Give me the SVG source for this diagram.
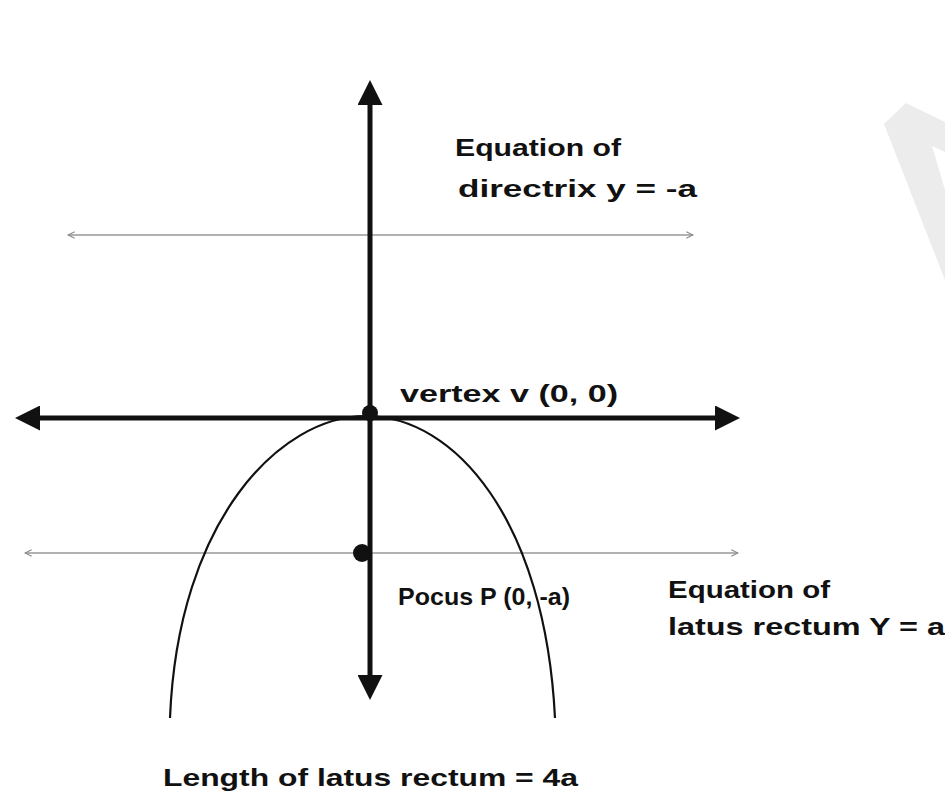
<svg xmlns="http://www.w3.org/2000/svg" width="945" height="800" viewBox="0 0 945 800">
<defs>
<style>
.t{font-family:"Liberation Sans",Arial,sans-serif;font-weight:bold;font-size:24px;fill:#111}
.axis{stroke:#111;stroke-width:5;fill:none}
.thin{stroke:#999;stroke-width:1.6;fill:none}
</style>
<marker id="big" viewBox="0 0 10 10" refX="2" refY="5" markerWidth="5" markerHeight="5" orient="auto-start-reverse" markerUnits="strokeWidth">
<path d="M0,0 L10,5 L0,10 Z" fill="#111"/>
</marker>
<marker id="open" viewBox="0 0 12 12" refX="11" refY="6" markerWidth="8" markerHeight="8" orient="auto-start-reverse" markerUnits="userSpaceOnUse">
<path d="M1,1 L11,6 L1,11" fill="none" stroke="#888" stroke-width="1.6"/>
</marker>
</defs>
<rect width="945" height="800" fill="#fff"/>
<g id="watermark">
<path d="M884,124 L906,103 L945,122 L945,152 L932,146 L945,190 L945,280 Z" fill="#ececec"/>
</g>
<g id="connectors">
<line id="directrix" class="thin" x1="68" y1="235" x2="693" y2="235" marker-start="url(#open)" marker-end="url(#open)"/>
<line id="latus" class="thin" x1="25" y1="553" x2="738" y2="553" marker-start="url(#open)" marker-end="url(#open)"/>
<line id="x-axis" class="axis" x1="35" y1="418" x2="720" y2="418" marker-start="url(#big)" marker-end="url(#big)"/>
<line id="y-axis" class="axis" x1="370" y1="100" x2="370" y2="680" marker-start="url(#big)" marker-end="url(#big)"/>
<path id="parabola" d="M170,718 C178,520 280,416 366,416 C455,416 545,520 555,718" fill="none" stroke="#111" stroke-width="2.2"/>
</g>
<g id="vertex">
<circle cx="370" cy="413" r="8" fill="#111"/>
<text class="t" x="400" y="402" textLength="218" lengthAdjust="spacingAndGlyphs">vertex v (0, 0)</text>
</g>
<g id="focus">
<circle cx="362" cy="553" r="9" fill="#111"/>
<text class="t" x="398" y="605" textLength="172" lengthAdjust="spacingAndGlyphs">Pocus P (0, -a)</text>
</g>
<g id="directrix-label">
<text class="t" x="455" y="156" textLength="166" lengthAdjust="spacingAndGlyphs">Equation of</text>
<text class="t" x="458" y="197" textLength="239" lengthAdjust="spacingAndGlyphs">directrix  y = -a</text>
</g>
<g id="latus-label">
<text class="t" x="668" y="598" textLength="162" lengthAdjust="spacingAndGlyphs">Equation of</text>
<text class="t" x="668" y="635" textLength="277" lengthAdjust="spacingAndGlyphs">latus rectum Y = a</text>
</g>
<g id="length-label">
<text class="t" x="163" y="786" textLength="415" lengthAdjust="spacingAndGlyphs">Length of latus rectum = 4a</text>
</g>
</svg>
